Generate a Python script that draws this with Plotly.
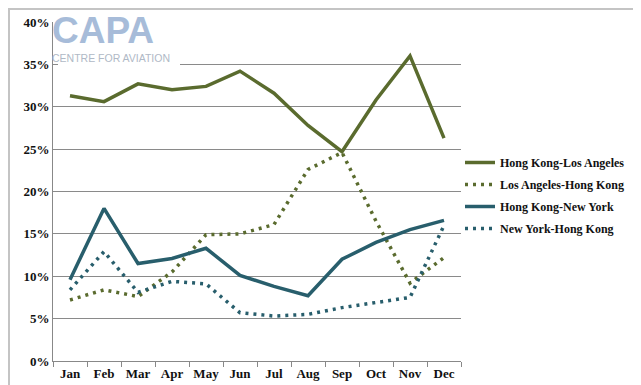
import plotly.graph_objects as go

months = ["Jan", "Feb", "Mar", "Apr", "May", "Jun", "Jul", "Aug", "Sep", "Oct", "Nov", "Dec"]
hk_la = [31.3, 30.6, 32.7, 32.0, 32.4, 34.2, 31.6, 27.8, 24.7, 30.8, 36.0, 26.3]
la_hk = [7.2, 8.4, 7.6, 10.5, 14.9, 15.0, 16.1, 22.6, 24.6, 16.5, 9.2, 12.2]
hk_ny = [9.6, 18.0, 11.5, 12.1, 13.3, 10.1, 8.8, 7.7, 12.0, 14.0, 15.5, 16.6]
ny_hk = [8.4, 12.9, 8.1, 9.4, 9.1, 5.7, 5.3, 5.5, 6.3, 6.9, 7.5, 16.0]
ytick_vals = [0, 5, 10, 15, 20, 25, 30, 35, 40]
ytick_text = [f"{v}%" for v in ytick_vals]

olive = "#5a6b2e"
teal = "#285e6c"
W, H = 641, 385
ml, mr, mt, mb = 45, 188, 14, 32
pw, ph = W - ml - mr, H - mt - mb

fig = go.Figure()
fig.add_trace(go.Scatter(x=months, y=hk_la, name="Hong Kong-Los Angeles", mode="lines", legendgroup="a",
                         line=dict(color=olive, width=3.5)))
fig.add_trace(go.Scatter(x=months, y=la_hk, name="Los Angeles-Hong Kong", mode="lines", legendgroup="b",
                         line=dict(color=olive, width=3.5, dash="3px,5px")))
fig.add_trace(go.Scatter(x=months, y=hk_ny, name="Hong Kong-New York", mode="lines", legendgroup="c",
                         line=dict(color=teal, width=3.5)))
fig.add_trace(go.Scatter(x=months, y=ny_hk, name="New York-Hong Kong", mode="lines", legendgroup="d",
                         line=dict(color=teal, width=3.5, dash="3px,5px")))

font_family = "Liberation Serif"
fig.update_layout(
    width=W, height=H,
    margin=dict(l=ml, r=mr, t=mt, b=mb, autoexpand=False),
    paper_bgcolor="white", plot_bgcolor="white",
    showlegend=True,
    legend=dict(x=(452 - ml) / pw, y=1 - (140 - mt) / ph, xanchor="left", yanchor="top",
                font=dict(family=font_family, size=12, color="#111", weight="bold"),
                bgcolor="rgba(0,0,0,0)", tracegroupgap=3, itemwidth=30),
    xaxis=dict(type="category", tickson="boundaries", ticks="outside", ticklen=5,
               tickcolor="#888", showline=True, linecolor="#888", linewidth=1,
               showgrid=False, range=[-0.5, 11.5], tickangle=0, automargin=False,
               tickfont=dict(family=font_family, size=13, color="#111", weight="bold")),
    yaxis=dict(range=[0, 40], tickvals=ytick_vals, ticktext=ytick_text, automargin=False,
               showgrid=True, gridcolor="#8a8a8a", gridwidth=1, zeroline=False,
               showline=True, linecolor="#888", linewidth=1, ticks="",
               tickfont=dict(family=font_family, size=13, color="#111", weight="bold")),
)

# frame around whole chart
fig.add_shape(type="rect", xref="paper", yref="paper",
              x0=-(ml - 1) / pw, x1=1 + (mr - 1) / pw, y0=-(mb - 1) / ph, y1=1 + (mt - 1) / ph,
              line=dict(color="#c4c4c4", width=2), layer="below")

# white logo background covering the gridline
fig.add_shape(type="rect", xref="paper", yref="paper",
              x0=(50 - ml) / pw, x1=(172 - ml) / pw, y0=1 - (60 - mt) / ph, y1=1 - (20 - mt) / ph,
              line=dict(width=0), fillcolor="white", layer="above")

# logo
fig.add_annotation(xref="paper", yref="paper", x=(43 - ml) / pw, y=1 - (1 - mt) / ph,
                   xanchor="left", yanchor="top", showarrow=False, borderpad=0,
                   text="<b>CAPA</b>", font=dict(family="Liberation Sans", size=37, color="#a7bcd9"))
fig.add_annotation(xref="paper", yref="paper", x=(43 - ml) / pw, y=1 - (43 - mt) / ph,
                   xanchor="left", yanchor="top", showarrow=False, borderpad=0,
                   text="CENTRE FOR AVIATION", font=dict(family="Liberation Sans", size=10.5, color="#b0b9c6"))

fig.write_html("out.html")
